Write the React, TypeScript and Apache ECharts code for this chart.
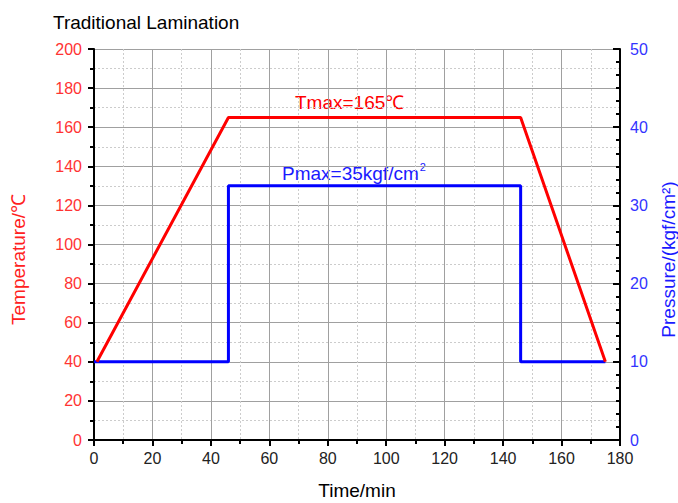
import React, { useEffect, useRef } from "react";
import * as echarts from "echarts";

const tempTimes = [1, 46, 146, 175];
const tempValues = [40, 165, 165, 40];
const pressTimes = [0, 46, 46, 146, 146, 175];
const pressValues = [10, 10, 32.5, 32.5, 10, 10];

const FONT = "Liberation Sans, Arial, sans-serif";

export default function App() {
  const ref = useRef<HTMLDivElement>(null);
  useEffect(() => {
    const chart = echarts.init(ref.current!, null, { renderer: "svg" });
    const option = {
      animation: false,
      backgroundColor: "#ffffff",
      textStyle: { fontFamily: FONT },
      title: {
        text: "Traditional Lamination",
        left: 48,
        top: 8,
        textStyle: { fontFamily: FONT, fontSize: 19, fontWeight: "normal", color: "#000" },
      },
      grid: { left: 94, right: 58, top: 49, bottom: 63, containLabel: false, outerBoundsMode: "none" },
      xAxis: {
        type: "value",
        min: 0,
        max: 180,
        interval: 20,
        name: "Time/min",
        nameLocation: "middle",
        nameGap: 41,
        nameTextStyle: { fontFamily: FONT, fontSize: 19, color: "#000" },
        axisLine: { show: true, onZero: false, lineStyle: { color: "#000", width: 2 } },
        axisTick: { show: true, length: 6, lineStyle: { color: "#000", width: 2 } },
        minorTick: { show: true, splitNumber: 2, length: 4, lineStyle: { color: "#000", width: 2 } },
        axisLabel: { fontFamily: FONT, fontSize: 16, color: "#222", margin: 10 },
        splitLine: { show: true, lineStyle: { color: "#a0a0a0", width: 1 } },
        minorSplitLine: { show: true, lineStyle: { color: "#cccccc", width: 1, type: [2, 2] } },
      },
      yAxis: [
        {
          type: "value",
          min: 0,
          max: 200,
          interval: 20,
          position: "left",
          name: "Temperature/℃",
          nameLocation: "middle",
          nameGap: 66,
          nameRotate: 90,
          nameTextStyle: { fontFamily: FONT, fontSize: 19, color: "#ff2020", padding: [0, 30, 0, 0] },
          axisLine: { show: true, lineStyle: { color: "#000", width: 2 } },
          axisTick: { show: true, length: 6, lineStyle: { color: "#000", width: 2 } },
          minorTick: { show: true, splitNumber: 2, length: 4, lineStyle: { color: "#000", width: 2 } },
          axisLabel: { fontFamily: FONT, fontSize: 16, color: "#ff3333", margin: 12 },
          splitLine: { show: true, lineStyle: { color: "#a0a0a0", width: 1 } },
          minorSplitLine: { show: true, lineStyle: { color: "#cccccc", width: 1, type: [2, 2] } },
        },
        {
          type: "value",
          min: 0,
          max: 50,
          interval: 10,
          position: "right",
          name: "Pressure/(kgf/cm²)",
          nameLocation: "middle",
          nameGap: 38,
          nameRotate: 90,
          nameTextStyle: { fontFamily: FONT, fontSize: 19, color: "#1a1aff", padding: [0, 30, 0, 0] },
          axisLine: { show: true, lineStyle: { color: "#000", width: 2 } },
          axisTick: { show: true, inside: true, length: 7, lineStyle: { color: "#000", width: 2 } },
          minorTick: { show: true, splitNumber: 6, length: 4, lineStyle: { color: "#000", width: 2 } },
          axisLabel: { fontFamily: FONT, fontSize: 16, color: "#3333ff", margin: 10 },
          splitLine: { show: false },
          minorSplitLine: { show: false },
        },
      ],
      graphic: [
        {
          type: "text",
          left: 295,
          top: 93,
          style: { text: "Tmax=165℃", fill: "#ff0000", font: `19px ${FONT}` },
        },
        {
          type: "text",
          left: 282,
          top: 161,
          style: {
            text: "{a|Pmax=35kgf/cm}{s|2}",
            fill: "#0000ff",
            rich: {
              a: { fontFamily: FONT, fontSize: 19, fill: "#1a1aff", verticalAlign: "bottom", lineHeight: 22 },
              s: { fontFamily: FONT, fontSize: 11, fill: "#1a1aff", verticalAlign: "top", lineHeight: 22, padding: [0, 0, 12, 1] },
            },
          },
        },
      ],
      series: [
        {
          type: "line",
          name: "Pressure",
          yAxisIndex: 1,
          data: pressTimes.map((t, i) => [t, pressValues[i]]),
          symbol: "none",
          lineStyle: { color: "#0000ff", width: 3 },
          z: 3,
        },
        {
          type: "line",
          name: "Temperature",
          yAxisIndex: 0,
          data: tempTimes.map((t, i) => [t, tempValues[i]]),
          symbol: "none",
          lineStyle: { color: "#ff0000", width: 3 },
          z: 4,
        },
      ],
    };
    chart.setOption(option as any);
    return () => chart.dispose();
  }, []);
  return <div ref={ref} style={{ position: "absolute", left: 0, top: 0, width: 678, height: 503 }} />;
}
